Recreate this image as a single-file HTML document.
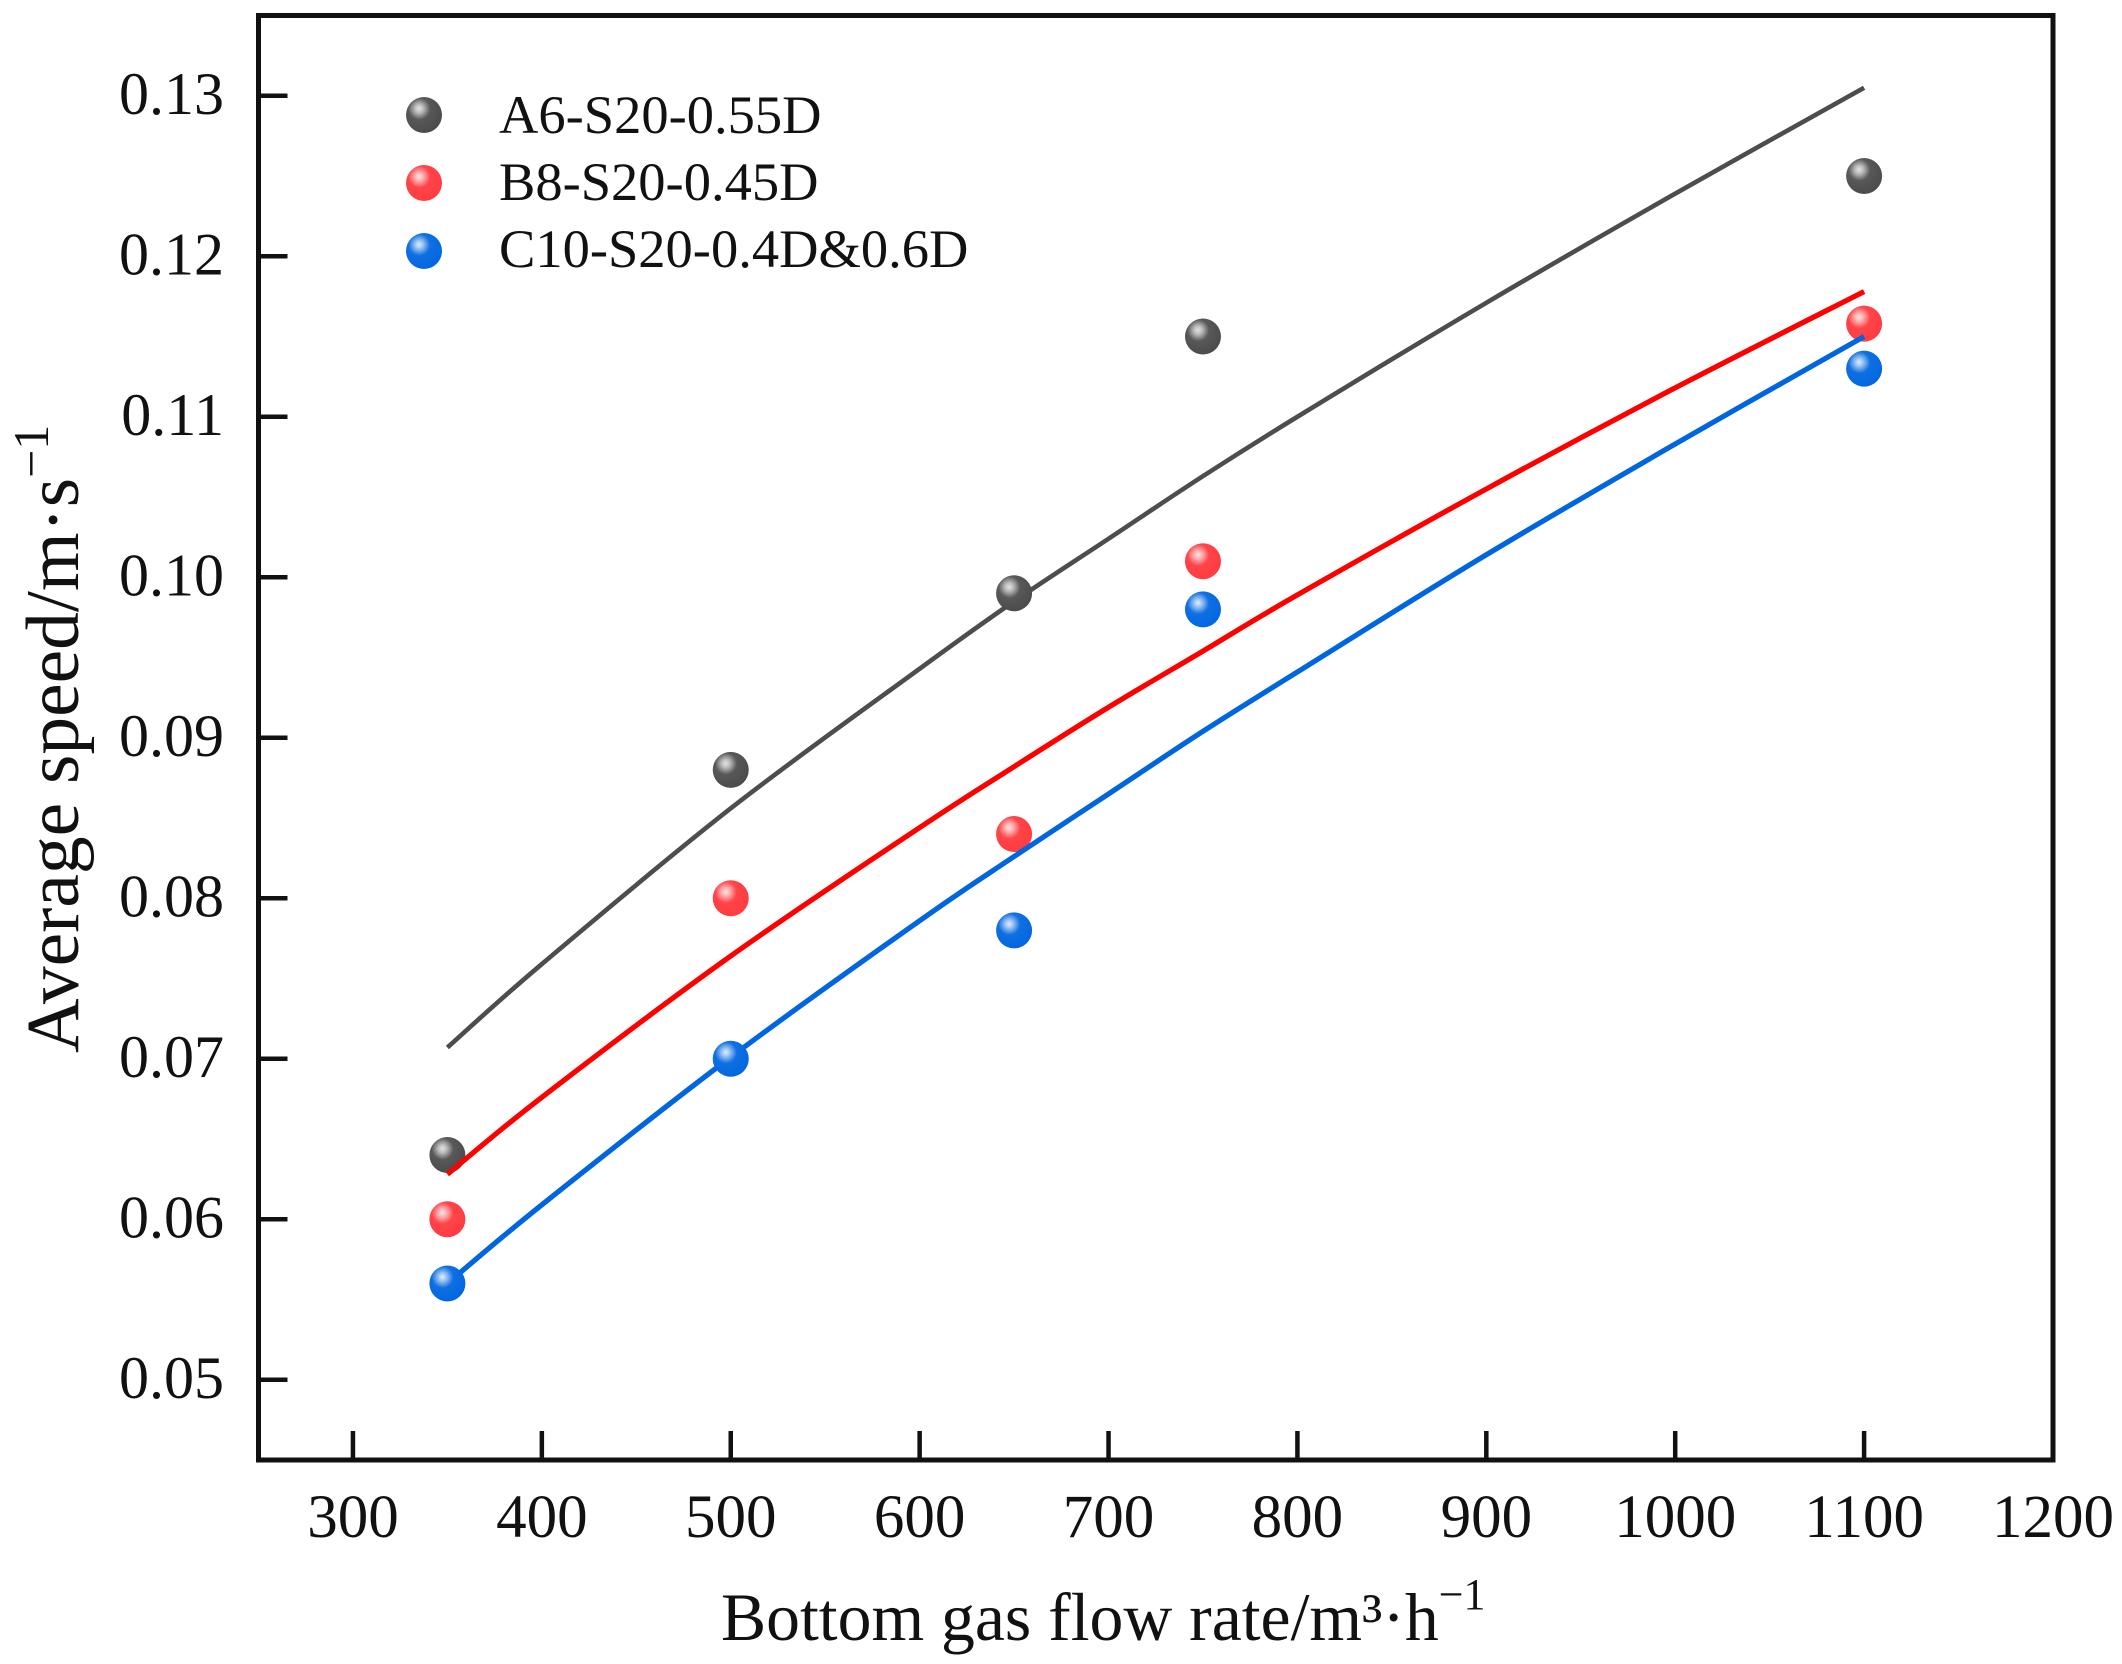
<!DOCTYPE html>
<html lang="en">
<head>
<meta charset="utf-8">
<title>Average speed vs bottom gas flow rate</title>
<style>
html,body{margin:0;padding:0;background:#fff;}
svg{display:block;}
text{font-family:"Liberation Serif","Times New Roman",serif;fill:#111;}
</style>
</head>
<body>
<svg id="chart" xmlns="http://www.w3.org/2000/svg" width="2122" height="1664" viewBox="0 0 2122 1664">
  <defs>
    <radialGradient id="ball-a" cx="0.38" cy="0.34" r="0.72" fx="0.36" fy="0.32">
      <stop offset="0" stop-color="#e4e4e4"/><stop offset="0.16" stop-color="#bcbcbc"/><stop offset="0.42" stop-color="#585858"/><stop offset="1" stop-color="#4a4a4a"/>
    </radialGradient>
    <radialGradient id="ball-b" cx="0.38" cy="0.34" r="0.72" fx="0.36" fy="0.32">
      <stop offset="0" stop-color="#ffe6e6"/><stop offset="0.16" stop-color="#ffb0b2"/><stop offset="0.42" stop-color="#ff4449"/><stop offset="1" stop-color="#ff3a3f"/>
    </radialGradient>
    <radialGradient id="ball-c" cx="0.38" cy="0.34" r="0.72" fx="0.36" fy="0.32">
      <stop offset="0" stop-color="#e2eefc"/><stop offset="0.16" stop-color="#98c2f2"/><stop offset="0.42" stop-color="#0f6fe2"/><stop offset="1" stop-color="#0066e0"/>
    </radialGradient>
  </defs>
  <rect x="0" y="0" width="2122" height="1664" fill="#fff"/>
  <g id="ticks"></g>
  <g id="marks"></g>
  <rect x="258.5" y="15.5" width="1794.5" height="1444.5" fill="none" stroke="#111" stroke-width="5"/>
  <g>
    <g>
      <circle cx="424" cy="115" r="18" fill="url(#ball-a)"/>
      <text x="499" y="133" font-size="54.5">A6-S20-0.55D</text>
    </g>
    <g>
      <circle cx="424" cy="183" r="18" fill="url(#ball-b)"/>
      <text x="499" y="200" font-size="54.5">B8-S20-0.45D</text>
    </g>
    <g>
      <circle cx="424" cy="251" r="18" fill="url(#ball-c)"/>
      <text x="499" y="267" font-size="54.5">C10-S20-0.4D&amp;0.6D</text>
    </g>
  </g>
  <text x="721" y="1640" font-size="67.7">Bottom gas flow rate/m³·h<tspan font-size="44" dy="-31">−1</tspan></text>
  <text transform="translate(78 1053) rotate(-90)" font-size="75.5">Average speed/m·s<tspan font-size="50" dy="-30">−1</tspan></text>
</svg>
<script>
const xTickValues = [300, 400, 500, 600, 700, 800, 900, 1000, 1100, 1200];
const yTickValues = [0.05, 0.06, 0.07, 0.08, 0.09, 0.10, 0.11, 0.12, 0.13];
const flowRates = [350, 500, 650, 750, 1100];
const seriesA = [0.064, 0.088, 0.099, 0.115, 0.125];
const seriesB = [0.060, 0.080, 0.084, 0.101, 0.1158];
const seriesC = [0.056, 0.070, 0.078, 0.098, 0.113];
const fitFlowRates = [350, 400, 500, 600, 650, 700, 750, 800, 900, 1000, 1100];
const fitA = [0.0707, 0.0759, 0.0856, 0.0943, 0.0985, 0.1024, 0.1063, 0.1100, 0.1171, 0.1239, 0.1305];
const fitB = [0.0628, 0.0676, 0.0764, 0.0844, 0.0882, 0.0919, 0.0954, 0.0989, 0.1055, 0.1118, 0.1178];
const fitC = [0.0560, 0.0609, 0.0701, 0.0786, 0.0826, 0.0865, 0.0904, 0.0941, 0.1014, 0.1083, 0.1150];

const NS = 'http://www.w3.org/2000/svg';
const X_MIN = 250, X_MAX = 1200, Y_MIN = 0.045, Y_MAX = 0.135;
const LEFT = 258.5, RIGHT = 2053, TOP = 15.5, BOTTOM = 1460;
function xScale(v) { return LEFT + (v - X_MIN) / (X_MAX - X_MIN) * (RIGHT - LEFT); }
function yScale(v) { return BOTTOM - (v - Y_MIN) / (Y_MAX - Y_MIN) * (BOTTOM - TOP); }
function make(tag, attrs, parent) {
  const el = document.createElementNS(NS, tag);
  for (const k in attrs) el.setAttribute(k, attrs[k]);
  parent.appendChild(el);
  return el;
}
const ticksLayer = document.getElementById('ticks');
const marksLayer = document.getElementById('marks');

xTickValues.forEach(function (v) {
  const px = xScale(v);
  if (v < X_MAX) {
    const t = make('line', { x1: px, x2: px, y1: BOTTOM, y2: BOTTOM - 29, stroke: '#111', 'stroke-width': 4.5 }, ticksLayer);
    
    
  }
  const l = make('text', { x: px, y: 1537, 'font-size': 61, 'text-anchor': 'middle' }, ticksLayer);
  l.textContent = String(v);
  
  
});
yTickValues.forEach(function (v) {
  const py = yScale(v);
  const t = make('line', { x1: LEFT, x2: LEFT + 29, y1: py, y2: py, stroke: '#111', 'stroke-width': 4.5 }, ticksLayer);
  
  
  const l = make('text', { x: 224, y: py + 18, 'font-size': 60, 'text-anchor': 'end' }, ticksLayer);
  l.textContent = v.toFixed(2);
  
  
});

function smoothPath(xs, ys) {
  const p = xs.map(function (x, i) { return [xScale(x), yScale(ys[i])]; });
  let d = 'M' + p[0][0].toFixed(2) + ' ' + p[0][1].toFixed(2);
  for (let i = 0; i < p.length - 1; i++) {
    const a = p[Math.max(i - 1, 0)], b = p[i], c = p[i + 1], e = p[Math.min(i + 2, p.length - 1)];
    const c1x = b[0] + (c[0] - a[0]) / 6, c1y = b[1] + (c[1] - a[1]) / 6;
    const c2x = c[0] - (e[0] - b[0]) / 6, c2y = c[1] - (e[1] - b[1]) / 6;
    d += 'C' + c1x.toFixed(2) + ' ' + c1y.toFixed(2) + ' ' + c2x.toFixed(2) + ' ' + c2y.toFixed(2) + ' ' + c[0].toFixed(2) + ' ' + c[1].toFixed(2);
  }
  return d;
}
function drawSeries(key, fit, values, color, width, fill) {
  const path = make('path', { d: smoothPath(fitFlowRates, fit), fill: 'none', stroke: color, 'stroke-width': width }, marksLayer);
  
  
  values.forEach(function (v, i) {
    const c = make('circle', { cx: xScale(flowRates[i]), cy: yScale(v), r: 18, fill: fill }, marksLayer);
    
    
  });
}
drawSeries('a6', fitA, seriesA, '#4d4d4d', 4.6, 'url(#ball-a)');
drawSeries('b8', fitB, seriesB, '#ff0000', 5.2, 'url(#ball-b)');
drawSeries('c10', fitC, seriesC, '#0066e0', 5.2, 'url(#ball-c)');
</script>
</body>
</html>
